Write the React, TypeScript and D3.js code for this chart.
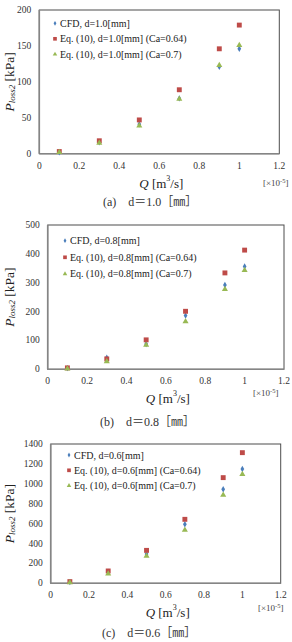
import React from "react";
import * as d3 from "d3";

// Flow rate Q [×10^-5 m³/s]
const flowRates = [0.1, 0.3, 0.5, 0.7, 0.9, 1.0];
const xTicks = [0, 0.2, 0.4, 0.6, 0.8, 1, 1.2];

// Pressure loss P_loss2 [kPa], d = 1.0 mm
const cfdD10 = [2, 16, 41, 77, 121, 146];
const eqCa064D10 = [3, 18, 47, 89, 146, 179];
const eqCa07D10 = [2, 15, 39, 76, 123, 151];

// d = 0.8 mm
const cfdD08 = [4, 40, 88, 186, 292, 356];
const eqCa064D08 = [5, 36, 102, 201, 334, 413];
const eqCa07D08 = [2, 27, 84, 166, 277, 343];

// d = 0.6 mm
const cfdD06 = [12, 115, 295, 593, 945, 1148];
const eqCa064D06 = [17, 124, 331, 643, 1062, 1313];
const eqCa07D06 = [8, 97, 275, 536, 887, 1095];

const yTicksA = [0, 50, 100, 150, 200];
const yTicksB = [0, 100, 200, 300, 400, 500];
const yTicksC = [0, 200, 400, 600, 800, 1000, 1200, 1400];

const BLUE = "#4a7ebb";
const RED = "#be4b48";
const GREEN = "#98b954";
const SERIF = "'Liberation Serif', 'Times New Roman', serif";
const CJK = "'Liberation Serif', 'Noto Sans CJK JP', serif";

type PanelProps = {
  left: number;
  right: number;
  top: number;
  bottom: number;
  yTicks: number[];
  cfd: number[];
  eq064: number[];
  eq07: number[];
  dLabel: string;
  legendX: number;
  legendY: number;
  legendGap: number;
  caption: string;
  captionX: number;
  captionY: number;
  expX: number;
  expY: number;
};

function Panel(p: PanelProps) {
  const x = d3.scaleLinear().domain([0, 1.2]).range([p.left, p.right]);
  const yMax = p.yTicks[p.yTicks.length - 1];
  const y = d3.scaleLinear().domain([0, yMax]).range([p.bottom, p.top]);

  const diamond = d3.symbol(d3.symbolDiamond, 12)()!;
  const square = d3.symbol(d3.symbolSquare, 24)()!;
  const triangle = d3.symbol(d3.symbolTriangle, 16)()!;

  const series = [
    { vals: p.cfd, path: diamond, color: BLUE, label: `CFD, d=${p.dLabel}[mm]` },
    { vals: p.eq064, path: square, color: RED, label: `Eq. (10), d=${p.dLabel}[mm] (Ca=0.64)` },
    { vals: p.eq07, path: triangle, color: GREEN, label: `Eq. (10), d=${p.dLabel}[mm] (Ca=0.7)` },
  ];

  const yLabelX = 9;
  const yLabelY = (p.top + p.bottom) / 2;

  return (
    <g>
      <rect
        x={p.left}
        y={p.top}
        width={p.right - p.left}
        height={p.bottom - p.top}
        fill="white"
        stroke="#4d4d4d"
        strokeWidth={1}
      />
      <line x1={p.left} x2={p.right} y1={p.bottom} y2={p.bottom} stroke="#858585" strokeWidth={1.6} />
      <line x1={p.left} x2={p.left} y1={p.top} y2={p.bottom} stroke="#858585" strokeWidth={1.6} />

      {p.yTicks.map((t) => (
        <text
          key={"y" + t}
          x={p.left - 8}
          y={y(t)}
          textAnchor="end"
          dominantBaseline="central"
          fontFamily={SERIF}
          fontSize={9.5}
          fill="#333"
        >
          {t}
        </text>
      ))}
      {xTicks.map((t) => (
        <text
          key={"x" + t}
          x={x(t)}
          y={p.bottom + 12}
          textAnchor="middle"
          dominantBaseline="central"
          fontFamily={SERIF}
          fontSize={9.5}
          fill="#333"
        >
          {t}
        </text>
      ))}

      {series.map((s, si) =>
        s.vals.map((v, i) => (
          <path
            key={`m${si}-${i}`}
            d={s.path}
            transform={`translate(${x(flowRates[i])},${y(v)})`}
            fill={s.color}
          />
        ))
      )}

      {series.map((s, si) => (
        <g key={"lg" + si} transform={`translate(${p.legendX},${p.legendY + si * p.legendGap})`}>
          <path d={s.path} fill={s.color} transform="scale(0.75)" />
          <text x={5} y={0} dominantBaseline="central" fontFamily={SERIF} fontSize={10} fill="#222">
            {s.label}
          </text>
        </g>
      ))}

      <text
        transform={`translate(${yLabelX},${yLabelY}) rotate(-90)`}
        textAnchor="middle"
        dominantBaseline="central"
        fontFamily={SERIF}
        fontSize={13.5}
        fill="#222"
      >
        <tspan fontStyle="italic">P</tspan>
        <tspan fontStyle="italic" fontSize={9} dy={3}>loss2</tspan>
        <tspan dy={-3}> [kPa]</tspan>
      </text>

      <text
        x={(p.left + p.right) / 2 + 2}
        y={p.bottom + 29}
        textAnchor="middle"
        dominantBaseline="central"
        fontFamily={SERIF}
        fontSize={13}
        fill="#222"
      >
        <tspan fontStyle="italic">Q</tspan>
        <tspan> [m</tspan>
        <tspan fontSize={8} dy={-5}>3</tspan>
        <tspan dy={5}>/s]</tspan>
      </text>

      <text x={p.expX} y={p.expY} dominantBaseline="central" fontFamily={SERIF} fontSize={9} fill="#444">
        <tspan>[×10</tspan>
        <tspan fontSize={6.5} dy={-3}>-5</tspan>
        <tspan dy={3}>]</tspan>
      </text>

      <text
        x={p.captionX}
        y={p.captionY}
        dominantBaseline="central"
        fontFamily={CJK}
        fontSize={12}
        fill="#333"
      >
        {p.caption}
      </text>
    </g>
  );
}

export default function App() {
  return (
    <svg
      width={292}
      height={642}
      style={{ position: "absolute", left: 0, top: 0, background: "white" }}
    >
      <Panel
        left={39.3}
        right={279.3}
        top={10}
        bottom={153.7}
        yTicks={yTicksA}
        cfd={cfdD10}
        eq064={eqCa064D10}
        eq07={eqCa07D10}
        dLabel="1.0"
        legendX={55}
        legendY={23.3}
        legendGap={15.5}
        caption="(a)　d＝1.0［㎜］"
        captionX={103}
        captionY={201.7}
        expX={263}
        expY={183}
      />
      <Panel
        left={47.7}
        right={284}
        top={225}
        bottom={369.3}
        yTicks={yTicksB}
        cfd={cfdD08}
        eq064={eqCa064D08}
        eq07={eqCa07D08}
        dLabel="0.8"
        legendX={65}
        legendY={240.7}
        legendGap={16.6}
        caption="(b)　d＝0.8［㎜］"
        captionX={100}
        captionY={422}
        expX={253}
        expY={393}
      />
      <Panel
        left={50.7}
        right={280.7}
        top={444}
        bottom={583.3}
        yTicks={yTicksC}
        cfd={cfdD06}
        eq064={eqCa064D06}
        eq07={eqCa07D06}
        dLabel="0.6"
        legendX={69}
        legendY={455}
        legendGap={15.3}
        caption="(c)　d＝0.6［㎜］"
        captionX={102}
        captionY={632.7}
        expX={258}
        expY={607.7}
      />
    </svg>
  );
}
